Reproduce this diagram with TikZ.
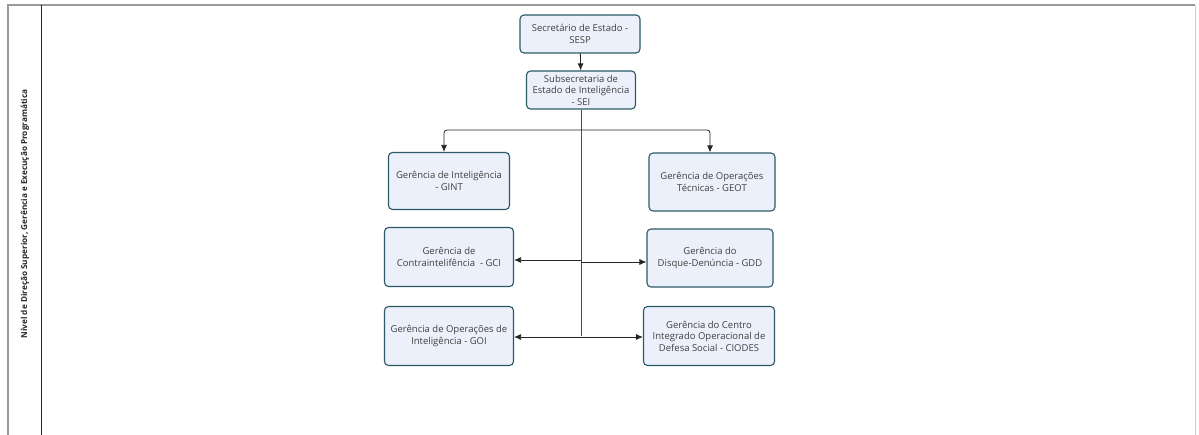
\documentclass[tikz,border=0pt]{standalone}
\usepackage{fontspec}
\setmainfont{Open Sans}
\usetikzlibrary{positioning,arrows.meta}
\definecolor{borda}{HTML}{2B5A66}
\definecolor{fundo}{HTML}{ECF0FA}
\definecolor{moldura}{HTML}{9A9A9A}
\tikzset{
caixa/.style={draw=borda,fill=fundo,rounded corners=4pt,line width=1.1pt,align=center,text=black!75,font=\fontsize{9.5}{11.5}\selectfont},
seta/.style={-{Latex[length=7pt,width=6pt]},line width=0.8pt,black!85},
linha/.style={line width=0.8pt,black!70}
}
\begin{document}
\begin{tikzpicture}[x=1pt,y=-1pt]
\useasboundingbox (0,0) rectangle (1199,435);
\draw[moldura,line width=1.5pt](8,435)--(8,5)--(1195,5);
\draw[black!20,line width=0.5pt](1195,5)--(1195,435);
\draw[black!85,line width=0.8pt](41,5)--(41,435);
\node[rotate=90,font=\bfseries\fontsize{8.2}{9}\selectfont,text=black!85](faixa) at (25,214){Nível de Direção Superior, Gerência e Execução Programática};
\node[caixa,minimum width=120,minimum height=38](sesp) at (580,34){Secretário de Estado -\\SESP};
\node[caixa,minimum width=109,minimum height=38,inner sep=2pt](sei) at (581,90){Subsecretaria de\\Estado de Inteligência\\- SEI};
\node[caixa,minimum width=121,minimum height=57](gint) at (449,181){Gerência de Inteligência\\- GINT};
\node[caixa,minimum width=126,minimum height=58](geot) at (712,182){Gerência de Operações\\Técnicas - GEOT};
\node[caixa,minimum width=129,minimum height=59](gci) at (449,257){Gerência de\\Contraintelifência~~- GCI};
\node[caixa,minimum width=126,minimum height=58](gdd) at (710,258){Gerência do\\Disque-Denúncia - GDD};
\node[caixa,minimum width=129,minimum height=59](goi) at (449,336){Gerência de Operações de\\Inteligência - GOI};
\node[caixa,minimum width=131,minimum height=59](ciodes) at (709,336){Gerência do Centro\\Integrado Operacional de\\Defesa Social - CIODES};
\coordinate(ramo) at (581,130);
\coordinate(tronco) at (581,336);
\draw[seta](sesp)--(sei);
\draw[linha](sei.south)--(tronco);
\draw[seta,rounded corners=3pt](ramo)-|([xshift=-5]gint.north);
\draw[seta,rounded corners=3pt](ramo)-|([xshift=-2]geot.north);
\foreach \kno/\kan/\kdy in {gci/east/-3,gdd/west/-4,goi/east/-1,ciodes/west/-1}{\draw[seta]([yshift=\kdy]tronco|-\kno)--([yshift=\kdy]\kno.\kan);}
\end{tikzpicture}
\end{document}
